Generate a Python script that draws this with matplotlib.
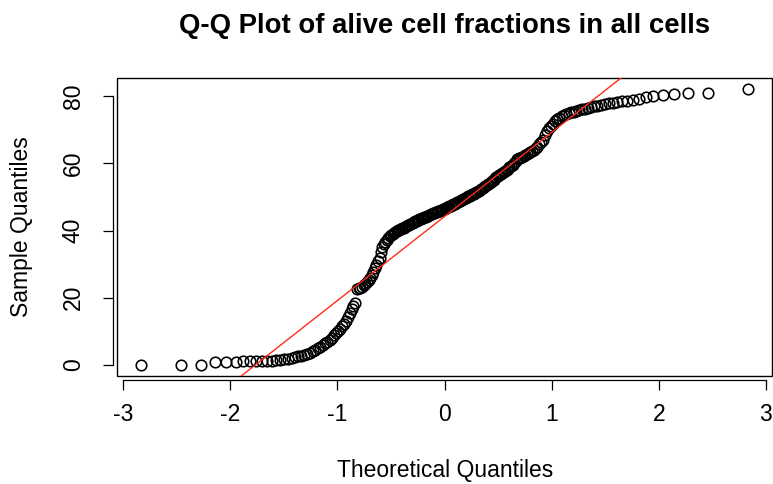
from statistics import NormalDist

import numpy as np
import matplotlib
matplotlib.use("Agg")
import matplotlib.pyplot as plt
from matplotlib.patches import Rectangle

# sorted sample values (alive cell fraction, %)
sample_quantiles = [
    0.0, 0.0, 0.0, 1.0, 1.0, 1.0, 1.1, 1.1, 1.1, 1.2,
    1.2, 1.3, 1.4, 1.5, 1.7, 1.9, 2.1, 2.3, 2.6, 2.8,
    3.1, 3.4, 3.7, 4.1, 4.5, 4.9, 5.4, 5.9, 6.4, 6.9,
    7.5, 8.1, 8.8, 9.4, 10.1, 10.7, 11.5, 12.3, 13.2, 14.2,
    15.5, 16.8, 17.5, 18.3, 22.5, 22.8, 23.0, 23.3, 23.7, 24.1,
    24.6, 25.2, 26.0, 26.8, 27.8, 28.8, 29.8, 30.8, 31.8, 33.5,
    35.0, 35.9, 36.7, 37.3, 37.8, 38.3, 38.7, 39.1, 39.4, 39.7,
    39.9, 40.1, 40.3, 40.5, 40.7, 40.9, 41.1, 41.3, 41.5, 41.7,
    41.9, 42.1, 42.3, 42.5, 42.7, 42.9, 43.1, 43.4, 43.5, 43.7,
    43.8, 44.0, 44.1, 44.3, 44.4, 44.6, 44.8, 44.9, 45.1, 45.2,
    45.4, 45.5, 45.7, 45.8, 46.0, 46.1, 46.3, 46.5, 46.7, 46.9,
    47.0, 47.2, 47.4, 47.6, 47.8, 48.0, 48.2, 48.4, 48.6, 48.8,
    49.0, 49.2, 49.4, 49.6, 49.8, 50.0, 50.2, 50.4, 50.6, 50.8,
    51.0, 51.2, 51.4, 51.6, 51.8, 52.0, 52.3, 52.6, 52.9, 53.2,
    53.5, 53.8, 54.2, 54.5, 54.8, 55.1, 55.5, 55.8, 56.1, 56.4,
    56.7, 57.0, 57.4, 57.7, 58.1, 58.4, 58.8, 59.2, 59.6, 60.2,
    60.8, 61.3, 61.5, 61.7, 61.9, 62.2, 62.5, 62.8, 63.1, 63.4,
    63.7, 64.0, 64.5, 65.0, 65.6, 66.2, 66.8, 68.5, 69.6, 70.4,
    71.0, 71.8, 72.6, 73.1, 73.5, 74.0, 74.3, 74.6, 74.9, 75.2,
    75.4, 75.6, 75.9, 76.1, 76.3, 76.6, 76.8, 77.0, 77.2, 77.4,
    77.6, 77.8, 78.0, 78.2, 78.4, 78.6, 78.8, 79.2, 79.6, 80.0,
    80.2, 80.5, 80.8, 80.9, 82.1,
]
x_ticks = [-3, -2, -1, 0, 1, 2, 3]
y_ticks = [0, 20, 40, 60, 80]

plt.rcParams['font.family'] = ['Liberation Sans', 'DejaVu Sans']

y = np.sort(np.array(sample_quantiles))
n = len(y)
nd = NormalDist()
# same plotting positions as R's ppoints() for n > 10
theo = np.array([nd.inv_cdf((i - 0.5) / n) for i in range(1, n + 1)])

# qqline: line through the first and third quartiles
yq = np.quantile(y, [0.25, 0.75])
xq = np.array([nd.inv_cdf(0.25), nd.inv_cdf(0.75)])
slope = (yq[1] - yq[0]) / (xq[1] - xq[0])
intercept = yq[0] - slope * xq[0]

fig = plt.figure(figsize=(7.73, 4.84), dpi=100)
ax = fig.add_axes([117 / 773, 108 / 484, 655 / 773, 298 / 484])

ax.plot(theo, y, 'o', ms=7.6, mfc='none', mec='black', mew=1.15)
ax.axline((0, intercept), slope=slope, color='#ff2a1a', lw=1.0)

xr = theo.max() - theo.min()
yr = y.max() - y.min()
ax.set_xlim(theo.min() - 0.04 * xr, theo.max() + 0.04 * xr)
ax.set_ylim(y.min() - 0.04 * yr, y.max() + 0.04 * yr)

# R style axes: box around the plot and separate axis lines with ticks
ax.add_patch(Rectangle((0, 0), 1, 1, transform=ax.transAxes, fill=False,
                       lw=1.0, color='black', clip_on=False))
for s in ['top', 'right']:
    ax.spines[s].set_visible(False)
ax.spines['bottom'].set_position(('outward', 3))
ax.spines['left'].set_position(('outward', 3))
ax.spines['bottom'].set_bounds(-3, 3)
ax.spines['left'].set_bounds(0, 80)
ax.spines['bottom'].set_linewidth(0.9)
ax.spines['left'].set_linewidth(0.9)

ax.set_xticks(x_ticks)
ax.set_xticklabels([str(t) for t in x_ticks])
ax.set_yticks(y_ticks)
ax.set_yticklabels([str(t) for t in y_ticks], rotation=90, va='center')
ax.tick_params(axis='both', length=7.2, width=0.9, labelsize=16.5)
ax.tick_params(axis='x', pad=9)
ax.tick_params(axis='y', pad=13)

fig.text(445 / 773, 1 - 470 / 484, 'Theoretical Quantiles', ha='center', va='center', fontsize=16.5)
fig.text(22 / 773, 1 - 227 / 484, 'Sample Quantiles', ha='center', va='center',
         rotation=90, fontsize=16.5)
fig.text(444.5 / 773, 1 - 26 / 484, 'Q-Q Plot of alive cell fractions in all cells',
         ha='center', va='center', fontsize=19.8, fontweight='bold')

plt.savefig('out.png', dpi=100)
